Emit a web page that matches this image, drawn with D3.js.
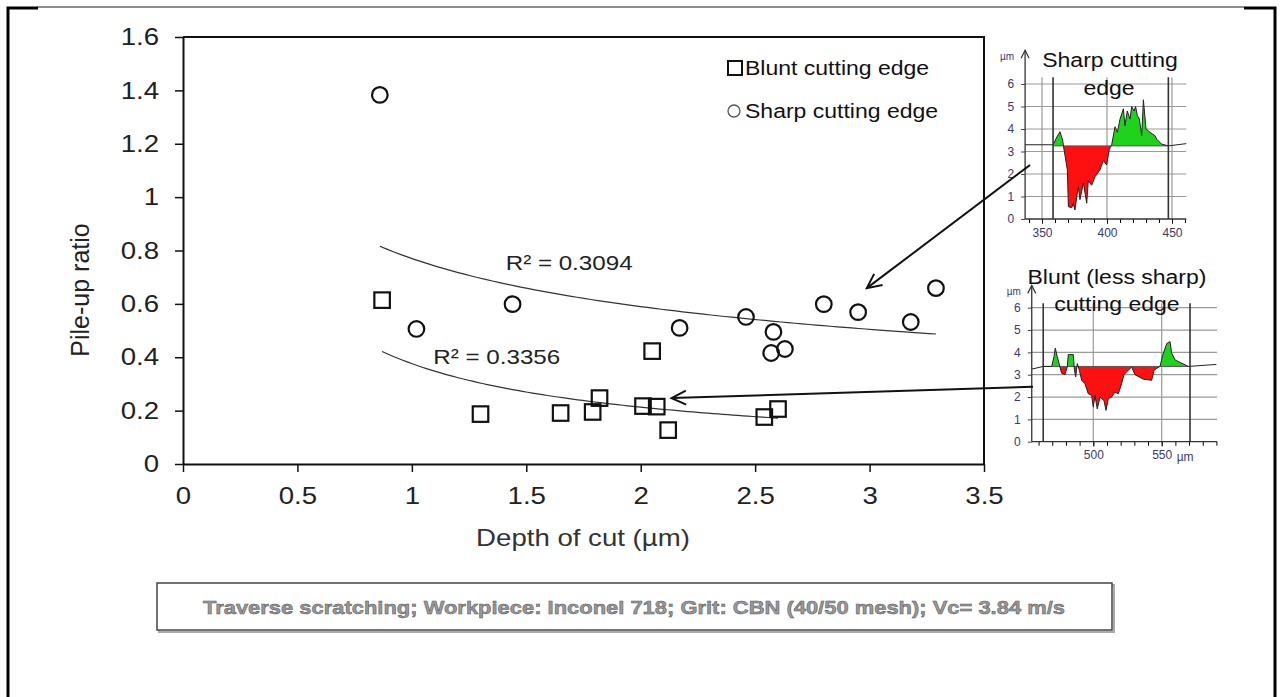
<!DOCTYPE html>
<html>
<head>
<meta charset="utf-8">
<script src="https://cdn.jsdelivr.net/npm/d3@7"></script>
<style>
  body { margin: 0; background: #fff; }
  svg text { font-family: "Liberation Sans", Arial, sans-serif; }
</style>
</head>
<body>
<div id="chart"></div>
<script>
// values
const bluntDepth  = [0.87, 1.30, 1.65, 1.79, 1.82, 2.01, 2.07, 2.05, 2.12, 2.54, 2.60];
const bluntPileup = [0.614, 0.187, 0.191, 0.195, 0.247, 0.217, 0.215, 0.423, 0.127, 0.176, 0.206];
const sharpDepth  = [0.86, 1.02, 1.44, 2.17, 2.46, 2.58, 2.57, 2.63, 2.80, 2.95, 3.18, 3.29];
const sharpPileup = [1.383, 0.506, 0.599, 0.510, 0.551, 0.495, 0.416, 0.431, 0.599, 0.569, 0.532, 0.659];

const xTicks = [0, 0.5, 1, 1.5, 2, 2.5, 3, 3.5];
const yTicks = [0, 0.2, 0.4, 0.6, 0.8, 1, 1.2, 1.4, 1.6];
const r2Labels = ["R\u00b2 = 0.3094", "R\u00b2 = 0.3356"];

// surface profiles of the two inset pictures (µm)
const sharpProfX = [337, 358.7, 361, 363.8, 365.9, 366.5, 369.5, 370.3, 372.9, 374, 375.3, 377.9, 379.2, 381.8, 384.4, 385.6, 388.2, 390.8, 394.6, 397.2, 399.7, 401.8, 403.6, 406.2, 408, 410, 412.6, 413.8, 415.6, 417.7, 419, 420.8, 422, 423.3, 424.9, 426.7, 428, 430, 433.1, 437, 438.2, 442, 447.2, 461];
const sharpProfZ = [3.3, 3.3, 3.6, 3.88, 3.5, 3.25, 2.18, 0.55, 0.5, 0.7, 0.4, 1.44, 0.86, 1.6, 0.7, 1.7, 1.5, 1.88, 2.18, 2.6, 2.4, 3.1, 3.3, 4.1, 3.85, 4.44, 4.9, 4.15, 4.8, 4.44, 5.0, 4.8, 5.0, 4.6, 4.44, 3.7, 5.3, 4.0, 3.85, 3.7, 3.55, 3.33, 3.25, 3.35];
const bluntProfX = [455, 463.4, 469.6, 471.3, 472.2, 473.6, 475.6, 476.8, 479.3, 481, 481.7, 485.4, 486.1, 487.1, 488.3, 489.8, 491.5, 493.9, 496.3, 498.8, 500, 501.2, 502.9, 504.9, 507.8, 509.3, 511, 513.4, 515.8, 518.3, 520.7, 522.4, 524.4, 528, 530.5, 536.6, 542.7, 544.4, 546.3, 548.8, 550.7, 553.7, 556.1, 557.3, 559.8, 563.4, 569.5, 590];
const bluntProfZ = [3.25, 3.37, 3.37, 3.82, 4.19, 3.82, 3.36, 3.07, 3.0, 3.36, 3.9, 3.9, 3.27, 2.9, 3.5, 3.2, 2.75, 2.6, 2.15, 2.07, 1.55, 2.07, 1.47, 2.0, 1.84, 1.4, 1.93, 2.0, 2.22, 2.15, 2.6, 3.0, 3.13, 3.34, 3.0, 2.8, 2.75, 3.2, 3.28, 3.37, 3.87, 4.4, 4.48, 3.96, 3.66, 3.55, 3.37, 3.46];

const width = 1282;
const height = 697;
const stretchX = 1.15; // the original figure is a bit wider than tall

const svg = d3.select("#chart")
  .append("svg")
  .attr("width", width)
  .attr("height", height);

// widen text horizontally like the source picture
function stretch(sel) {
  sel.each(function() {
    const w = this.getComputedTextLength();
    d3.select(this).attr("textLength", w * stretchX).attr("lengthAdjust", "spacingAndGlyphs");
  });
}

// page frame
svg.append("line").attr("x1", 38).attr("x2", 1244).attr("y1", 7).attr("y2", 7).attr("stroke", "#666").attr("stroke-width", 1.5);
svg.append("path").attr("d", "M8,697 V8 H38").attr("fill", "none").attr("stroke", "#000").attr("stroke-width", 3);
svg.append("path").attr("d", "M1244,8 H1275 V697").attr("fill", "none").attr("stroke", "#000").attr("stroke-width", 3);

// main scales
const x = d3.scaleLinear().domain([0, 3.5]).range([183, 984]);
const y = d3.scaleLinear().domain([0, 1.6]).range([464, 37]);

// plot box top/right
svg.append("path")
  .attr("d", `M${x(0)},${y(1.6)} H${x(3.5)} V${y(0)}`)
  .attr("fill", "none").attr("stroke", "#111").attr("stroke-width", 2);

const gy = svg.append("g")
  .attr("transform", `translate(${x(0)},0)`)
  .call(d3.axisLeft(y).tickValues(yTicks).tickSize(8).tickSizeOuter(0).tickPadding(16).tickFormat(d3.format("~g")));
const gx = svg.append("g")
  .attr("transform", `translate(0,${y(0)})`)
  .call(d3.axisBottom(x).tickValues(xTicks).tickSize(8).tickSizeOuter(0).tickPadding(15).tickFormat(d3.format("~g")));

[gy, gx].forEach(g => {
  g.select(".domain").attr("stroke", "#111").attr("stroke-width", 2);
  g.selectAll(".tick line").attr("stroke", "#111").attr("stroke-width", 1.5);
  g.selectAll("text").attr("font-size", 24).attr("fill", "#222")
    .attr("font-family", "'Liberation Sans', Arial, sans-serif").call(stretch);
});

// axis titles
svg.append("text")
  .attr("x", 583).attr("y", 546)
  .attr("text-anchor", "middle").attr("font-size", 24).attr("fill", "#333")
  .text("Depth of cut (\u00b5m)").call(stretch);
svg.append("text")
  .attr("transform", "translate(89,290) rotate(-90)")
  .attr("text-anchor", "middle").attr("font-size", 25).attr("fill", "#222")
  .text("Pile-up ratio");

// power trendlines, least squares in log-log space
function powerFit(xs, ys) {
  const lx = xs.map(Math.log), ly = ys.map(Math.log);
  const mx = d3.mean(lx), my = d3.mean(ly);
  const sxy = d3.sum(lx, (v, i) => (v - mx) * (ly[i] - my));
  const sxx = d3.sum(lx, v => (v - mx) * (v - mx));
  const b = sxy / sxx;
  return { a: Math.exp(my - b * mx), b: b };
}

const trendLine = d3.line().x(d => x(d[0])).y(d => y(d[1]));

[[sharpDepth, sharpPileup], [bluntDepth, bluntPileup]].forEach(([xs, ys]) => {
  const fit = powerFit(xs, ys);
  const [lo, hi] = d3.extent(xs);
  const pts = d3.range(80).map(i => {
    const v = lo + (hi - lo) * i / 79;
    return [v, fit.a * Math.pow(v, fit.b)];
  });
  svg.append("path").attr("d", trendLine(pts))
    .attr("fill", "none").attr("stroke", "#333").attr("stroke-width", 1.2);
});

// R² labels
svg.append("text").attr("x", x(1.41)).attr("y", y(0.727))
  .attr("font-size", 21).attr("fill", "#222").text(r2Labels[0]).call(stretch);
svg.append("text").attr("x", x(1.094)).attr("y", y(0.375))
  .attr("font-size", 21).attr("fill", "#222").text(r2Labels[1]).call(stretch);

// markers
const side = 15.5;
svg.selectAll(".blunt")
  .data(d3.range(bluntDepth.length))
  .enter()
  .append("rect")
    .attr("class", "blunt")
    .attr("x", i => x(bluntDepth[i]) - side / 2)
    .attr("y", i => y(bluntPileup[i]) - side / 2)
    .attr("width", side).attr("height", side)
    .attr("fill", "none").attr("stroke", "#111").attr("stroke-width", 2.2);

svg.selectAll(".sharp")
  .data(d3.range(sharpDepth.length))
  .enter()
  .append("circle")
    .attr("class", "sharp")
    .attr("cx", i => x(sharpDepth[i]))
    .attr("cy", i => y(sharpPileup[i]))
    .attr("r", 7.8)
    .attr("fill", "none").attr("stroke", "#111").attr("stroke-width", 2.2);

// legend
svg.append("rect").attr("x", 728).attr("y", 61).attr("width", 14).attr("height", 14)
  .attr("fill", "none").attr("stroke", "#111").attr("stroke-width", 2);
svg.append("text").attr("x", 745).attr("y", 75).attr("font-size", 20).attr("fill", "#111")
  .text("Blunt cutting edge").call(stretch);
svg.append("circle").attr("cx", 734).attr("cy", 111).attr("r", 6)
  .attr("fill", "none").attr("stroke", "#555").attr("stroke-width", 1.3);
svg.append("text").attr("x", 745).attr("y", 118).attr("font-size", 20).attr("fill", "#111")
  .text("Sharp cutting edge").call(stretch);

// inset profile pictures
function drawInset(cfg) {
  const sx = cfg.sx, sz = cfg.sz;
  const g = svg.append("g");
  const [x0, x1] = cfg.xExtent;

  // grid
  g.selectAll(".hgrid").data(d3.range(1, 7)).enter().append("line")
    .attr("x1", sx(x0)).attr("x2", sx(x1)).attr("y1", d => sz(d)).attr("y2", d => sz(d))
    .attr("stroke", "#9a9a9a").attr("stroke-width", 1.2);
  g.selectAll(".vgrid").data(cfg.gridX).enter().append("line")
    .attr("x1", d => sx(d)).attr("x2", d => sx(d)).attr("y1", sz(0)).attr("y2", sz(cfg.gridTop))
    .attr("stroke", "#9a9a9a").attr("stroke-width", 1.2);

  // filled areas between profile and reference line
  const id = cfg.id;
  const defs = g.append("defs");
  defs.append("clipPath").attr("id", id + "-up").append("rect")
    .attr("x", sx(cfg.cursors[0])).attr("width", sx(cfg.cursors[1]) - sx(cfg.cursors[0]))
    .attr("y", sz(8)).attr("height", sz(cfg.base) - sz(8));
  defs.append("clipPath").attr("id", id + "-down").append("rect")
    .attr("x", sx(cfg.cursors[0])).attr("width", sx(cfg.cursors[1]) - sx(cfg.cursors[0]))
    .attr("y", sz(cfg.base)).attr("height", sz(0) - sz(cfg.base));

  const pts = cfg.px.map((v, i) => [v, cfg.pz[i]]);
  const area = d3.area().x(d => sx(d[0])).y0(sz(cfg.base)).y1(d => sz(d[1]));
  g.append("path").attr("d", area(pts)).attr("fill", "#1ed21e").attr("clip-path", `url(#${id}-up)`);
  g.append("path").attr("d", area(pts)).attr("fill", "#ff1010").attr("clip-path", `url(#${id}-down)`);
  g.append("line").attr("x1", sx(cfg.cursors[0])).attr("x2", sx(cfg.cursors[1]))
    .attr("y1", sz(cfg.base)).attr("y2", sz(cfg.base)).attr("stroke", "#555").attr("stroke-width", 1);
  g.append("path").attr("d", d3.line().x(d => sx(d[0])).y(d => sz(d[1]))(pts))
    .attr("fill", "none").attr("stroke", "#222").attr("stroke-width", 1);

  // cursor lines
  g.selectAll(".cursor").data(cfg.cursors).enter().append("line")
    .attr("x1", d => sx(d)).attr("x2", d => sx(d)).attr("y1", sz(0)).attr("y2", sz(cfg.gridTop))
    .attr("stroke", "#333").attr("stroke-width", 1.6);

  // axes
  const ax = g.append("g").attr("transform", `translate(${sx(x0)},0)`)
    .call(d3.axisLeft(sz).tickValues(d3.range(0, 7)).tickSize(4).tickPadding(7).tickSizeOuter(0).tickFormat(d3.format("d")));
  ax.select(".domain").remove();
  const bx = g.append("g").attr("transform", `translate(0,${sz(0)})`)
    .call(d3.axisBottom(sx).tickValues(cfg.xTicks).tickSize(5).tickPadding(4).tickSizeOuter(0).tickFormat(d3.format("d")));
  bx.select(".domain").remove();
  g.append("g").attr("transform", `translate(0,${sz(0)})`)
    .call(d3.axisBottom(sx).tickValues(cfg.minor).tickSize(4).tickFormat(""))
    .select(".domain").remove();
  [ax, bx].forEach(a => {
    a.selectAll("line").attr("stroke", "#444");
    a.selectAll("text").attr("font-size", 12).attr("fill", "#3a3a6a")
      .attr("font-family", "'Liberation Sans', Arial, sans-serif");
  });
  g.append("line").attr("x1", sx(x0)).attr("x2", sx(x1)).attr("y1", sz(0)).attr("y2", sz(0))
    .attr("stroke", "#333").attr("stroke-width", 1.3);
  g.append("line").attr("x1", sx(x0)).attr("x2", sx(x0)).attr("y1", sz(0)).attr("y2", sz(cfg.zTop))
    .attr("stroke", "#333").attr("stroke-width", 1.3);
  g.append("path")
    .attr("d", `M${sx(x0) - 4},${sz(cfg.zTop) + 8} L${sx(x0)},${sz(cfg.zTop)} L${sx(x0) + 4},${sz(cfg.zTop) + 8}`)
    .attr("fill", "none").attr("stroke", "#333").attr("stroke-width", 1.2);
  g.append("text").attr("x", sx(x0) - 18).attr("y", sz(cfg.zTop) + 10)
    .attr("text-anchor", "middle").attr("font-size", 10).attr("fill", "#3a3a6a").text("\u00b5m");

  cfg.title.forEach((t, i) => {
    g.append("text").attr("x", t[1]).attr("y", t[2]).attr("text-anchor", "middle")
      .attr("font-size", 20).attr("fill", "#111").text(t[0]).call(stretch);
  });
  return g;
}

const sharpX = d3.scaleLinear().domain([350, 450]).range([1042, 1172]);
const sharpZ = d3.scaleLinear().domain([0, 6]).range([219, 84]);
drawInset({
  id: "sharp", sx: sharpX, sz: sharpZ, xExtent: [337, 461], zTop: 7.5, gridTop: 6.3,
  gridX: [350, 400, 450], cursors: [358.5, 447.2], base: 3.25,
  xTicks: [350, 400, 450], minor: d3.range(340, 461, 10),
  px: sharpProfX, pz: sharpProfZ,
  title: [["Sharp cutting", 1110, 67], ["edge", 1109, 95]]
});

const bluntX = d3.scaleLinear().domain([500, 550]).range([1093.3, 1161.7]);
const bluntZ = d3.scaleLinear().domain([0, 6]).range([441.7, 307.7]);
const bl = drawInset({
  id: "blunt", sx: bluntX, sz: bluntZ, xExtent: [455, 590.5], zTop: 7, gridTop: 6.2,
  gridX: [500, 550], cursors: [463.4, 570.7], base: 3.37,
  xTicks: [500, 550], minor: d3.range(460, 591, 10),
  px: bluntProfX, pz: bluntProfZ,
  title: [["Blunt (less sharp)", 1117, 284], ["cutting edge", 1117, 311]]
});
bl.append("text").attr("x", bluntX(550) + 15).attr("y", bluntZ(0) + 19)
  .attr("font-size", 12).attr("fill", "#3a3a6a").text("\u00b5m");

// arrows from the insets to the curves
function arrow(from, to) {
  const ang = Math.atan2(from[1] - to[1], from[0] - to[0]);
  const len = 16, spread = 0.45;
  svg.append("line").attr("x1", from[0]).attr("y1", from[1]).attr("x2", to[0]).attr("y2", to[1])
    .attr("stroke", "#111").attr("stroke-width", 2);
  svg.append("path")
    .attr("d", `M${to[0] + len * Math.cos(ang + spread)},${to[1] + len * Math.sin(ang + spread)}
                L${to[0]},${to[1]}
                L${to[0] + len * Math.cos(ang - spread)},${to[1] + len * Math.sin(ang - spread)}`)
    .attr("fill", "none").attr("stroke", "#111").attr("stroke-width", 2);
}
arrow([sharpX(340.8), sharpZ(2.4)], [x(2.988), y(0.659)]);
arrow([bluntX(455.9), bluntZ(2.46)], [x(2.135), y(0.247)]);

// caption box
svg.append("rect").attr("x", 159).attr("y", 585).attr("width", 955).attr("height", 47)
  .attr("fill", "none").attr("stroke", "#aaa").attr("stroke-width", 2);
svg.append("rect").attr("x", 157).attr("y", 583).attr("width", 955).attr("height", 47)
  .attr("fill", "#fff").attr("stroke", "#444").attr("stroke-width", 1.5);
svg.append("text").attr("x", 634).attr("y", 614).attr("text-anchor", "middle")
  .attr("font-size", 19).attr("font-weight", "bold").attr("fill", "#9a9a9a")
  .attr("stroke", "#555").attr("stroke-width", 0.5)
  .attr("textLength", 862).attr("lengthAdjust", "spacingAndGlyphs")
  .text("Traverse scratching; Workpiece: Inconel 718; Grit: CBN (40/50 mesh); Vc= 3.84 m/s");
</script>
</body>
</html>
